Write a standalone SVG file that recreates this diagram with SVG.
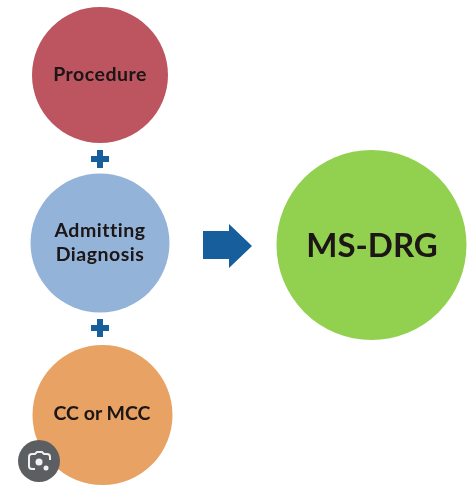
<svg xmlns="http://www.w3.org/2000/svg" width="474" height="488" viewBox="0 0 474 488">
<style>
.l{font-family:"Lato","Liberation Sans",sans-serif;font-weight:700;fill:#1a1414;text-anchor:middle}
.s{font-size:19.5px;letter-spacing:0.5px}
.b{fill:#125f9c}
</style>
<defs><filter id="soft" x="-5%" y="-5%" width="110%" height="110%"><feGaussianBlur stdDeviation="0.6"/></filter></defs>
<rect width="474" height="488" fill="#ffffff"/>
<g filter="url(#soft)">
<g id="procedure"><circle cx="100" cy="75" r="68" fill="#bd5560"/><text class="l s" x="100" y="81">Procedure</text></g>
<g id="admitting"><circle cx="100" cy="243" r="69.500" fill="#94b3d9"/><text class="l s" x="100" y="237">Admitting</text><text class="l s" x="100" y="261">Diagnosis</text></g>
<g id="ccmcc"><circle cx="102.500" cy="415" r="70" fill="#e8a263"/><text class="l" font-size="19.500" x="102" y="420">CC or MCC</text></g>
<g id="msdrg"><circle cx="371.500" cy="245" r="95" fill="#92d050"/><text class="l" font-size="33" x="372" y="257">MS-DRG</text></g>
<g id="connectors">
<path class="b" d="M97 150h6v6h6v6h-6v6h-6v-6h-6v-6h6z"/>
<path class="b" d="M97 319h6v6h6v6h-6v6h-6v-6h-6v-6h6z"/>
<path class="b" d="M203 231H229V224L252 246L229 268V259H203z"/>
</g>
</g>
<g id="lens-badge"><circle cx="39" cy="461" r="21" fill="#5c5f62"/><g fill="none" stroke="#f1f1f1" stroke-width="2"><path d="M35 469h-3a3 3 0 0 1-3-3v-9a3 3 0 0 1 3-3h3l2-2h5l2 2h3a3 3 0 0 1 3 3v3"/></g><circle cx="39" cy="462" r="3.500" fill="#f1f1f1"/><circle cx="46" cy="468" r="2.500" fill="#f1f1f1"/></g>
</svg>
